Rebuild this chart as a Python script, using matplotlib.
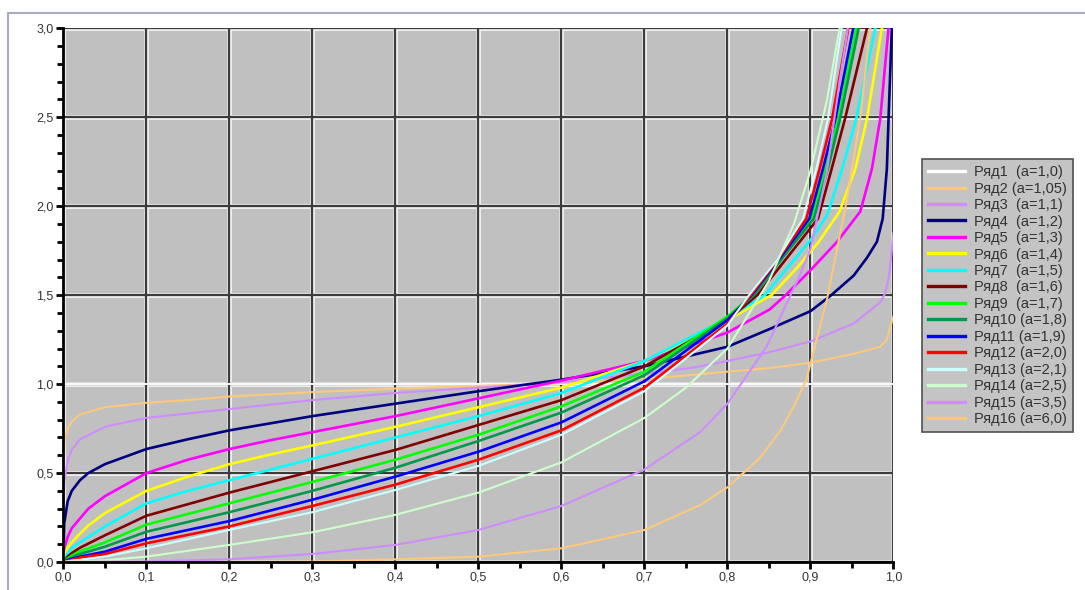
import matplotlib
matplotlib.use('Agg')
import matplotlib.pyplot as plt
from matplotlib.ticker import MultipleLocator, FuncFormatter
from matplotlib.lines import Line2D

plt.rcParams['font.family'] = ['Liberation Sans', 'DejaVu Sans']

# Подписи рядов
labels = ['Ряд1  (a=1,0)', 'Ряд2 (a=1,05)', 'Ряд3  (a=1,1)', 'Ряд4  (a=1,2)',
          'Ряд5  (a=1,3)', 'Ряд6  (a=1,4)', 'Ряд7  (a=1,5)', 'Ряд8  (a=1,6)',
          'Ряд9  (a=1,7)', 'Ряд10 (a=1,8)', 'Ряд11 (a=1,9)', 'Ряд12 (a=2,0)',
          'Ряд13 (a=2,1)', 'Ряд14 (a=2,5)', 'Ряд15 (a=3,5)', 'Ряд16 (a=6,0)']

# Значения
x1 = [0.0, 1.0]
y1 = [1.0, 1.0]

x2 = [0, 0.001, 0.005, 0.01, 0.02, 0.05, 0.1, 0.15, 0.2, 0.3, 0.4, 0.5, 0.6, 0.73, 0.8,
      0.851, 0.9, 0.952, 0.984, 0.992, 0.996, 1.0]
y2 = [0.55, 0.68, 0.75, 0.79, 0.83, 0.87, 0.895, 0.91, 0.93, 0.955, 0.975, 0.99, 1.005,
      1.04, 1.07, 1.09, 1.12, 1.17, 1.21, 1.25, 1.32, 1.38]

x3 = [0, 0.001, 0.005, 0.01, 0.02, 0.05, 0.1, 0.2, 0.3, 0.4, 0.5, 0.6, 0.7, 0.755,
      0.8, 0.851, 0.9, 0.952, 0.984, 0.99, 0.995, 1.0]
y3 = [0.3, 0.45, 0.57, 0.63, 0.69, 0.76, 0.81, 0.86, 0.91, 0.95, 0.98, 1.01, 1.06, 1.09,
      1.13, 1.18, 1.24, 1.34, 1.46, 1.51, 1.62, 1.85]

x4 = [0, 0.001, 0.005, 0.01, 0.02, 0.03, 0.05, 0.1, 0.15, 0.2, 0.25, 0.3, 0.4, 0.5,
      0.6, 0.7, 0.8, 0.851, 0.9, 0.925, 0.952, 0.968, 0.98, 0.987, 0.992, 0.994, 0.998]
y4 = [0, 0.22, 0.34, 0.40, 0.46, 0.50, 0.55, 0.635, 0.69, 0.74, 0.78, 0.82, 0.89, 0.96,
      1.025, 1.10, 1.21, 1.31, 1.41, 1.5, 1.61, 1.71, 1.80, 1.93, 2.21, 2.49, 3.0]

x5 = [0, 0.001, 0.005, 0.01, 0.02, 0.03, 0.05, 0.1, 0.15, 0.2, 0.25, 0.3, 0.4, 0.5,
      0.6, 0.7, 0.8, 0.851, 0.87, 0.9, 0.932, 0.96, 0.974, 0.984, 0.994]
y5 = [0, 0.08, 0.14, 0.19, 0.245, 0.30, 0.37, 0.50, 0.575, 0.635, 0.685, 0.73, 0.82,
      0.92, 1.02, 1.13, 1.29, 1.42, 1.5, 1.64, 1.80, 1.97, 2.21, 2.49, 3.0]

x6 = [0, 0.005, 0.01, 0.02, 0.03, 0.05, 0.1, 0.15, 0.2, 0.25, 0.3, 0.4, 0.5, 0.6, 0.7,
      0.8, 0.853, 0.885, 0.91, 0.935, 0.954, 0.968, 0.986]
y6 = [0, 0.08, 0.11, 0.16, 0.205, 0.275, 0.40, 0.48, 0.55, 0.605, 0.655, 0.76, 0.87,
      0.98, 1.13, 1.36, 1.5, 1.66, 1.80, 1.97, 2.21, 2.49, 3.0]

x7 = [0, 0.005, 0.01, 0.02, 0.03, 0.05, 0.1, 0.15, 0.2, 0.25, 0.3, 0.4, 0.5, 0.6, 0.7,
      0.8, 0.845, 0.875, 0.9, 0.92, 0.9375, 0.955, 0.978]
y7 = [0, 0.05, 0.08, 0.11, 0.14, 0.20, 0.33, 0.40, 0.46, 0.52, 0.58, 0.70, 0.82, 0.95,
      1.13, 1.37, 1.5, 1.67, 1.81, 1.95, 2.2, 2.49, 3.0]

x8 = [0, 0.005, 0.01, 0.02, 0.05, 0.1, 0.15, 0.2, 0.25, 0.3, 0.4, 0.5, 0.6, 0.7, 0.8,
      0.836, 0.87, 0.909, 0.9255, 0.9415, 0.968]
y8 = [0, 0.03, 0.05, 0.08, 0.15, 0.26, 0.325, 0.39, 0.45, 0.51, 0.63, 0.77, 0.91, 1.10,
      1.36, 1.5, 1.70, 1.93, 2.21, 2.49, 3.0]

x9 = [0, 0.005, 0.01, 0.02, 0.05, 0.1, 0.2, 0.3, 0.4, 0.5, 0.6, 0.7, 0.8,
      0.83, 0.865, 0.901, 0.918, 0.9335, 0.955]
y9 = [0, 0.02, 0.035, 0.06, 0.11, 0.21, 0.33, 0.45, 0.575, 0.715, 0.875, 1.07, 1.38,
      1.5, 1.71, 1.93, 2.21, 2.49, 3.0]

x10 = [0, 0.005, 0.01, 0.02, 0.05, 0.1, 0.2, 0.3, 0.4, 0.5, 0.6, 0.7, 0.8,
       0.832, 0.868, 0.904, 0.921, 0.9355, 0.958]
y10 = [0, 0.015, 0.025, 0.045, 0.086, 0.17, 0.28, 0.40, 0.53, 0.68, 0.84, 1.05, 1.37,
       1.5, 1.72, 1.93, 2.21, 2.49, 3.0]

x11 = [0, 0.005, 0.01, 0.02, 0.05, 0.1, 0.2, 0.3, 0.4, 0.5, 0.6, 0.7, 0.8,
       0.829, 0.865, 0.8986, 0.915, 0.93, 0.9515]
y11 = [0, 0.01, 0.018, 0.03, 0.058, 0.13, 0.23, 0.35, 0.48, 0.62, 0.785, 1.016, 1.36,
       1.5, 1.72, 1.93, 2.21, 2.49, 3.0]

x12 = [0, 0.005, 0.01, 0.02, 0.05, 0.1, 0.2, 0.3, 0.4, 0.5, 0.6, 0.7, 0.8,
       0.828, 0.862, 0.895, 0.911, 0.926, 0.9455]
y12 = [0, 0.007, 0.012, 0.025, 0.045, 0.105, 0.20, 0.315, 0.435, 0.575, 0.74, 0.98, 1.34,
       1.5, 1.71, 1.93, 2.21, 2.49, 3.0]

x13 = [0, 0.005, 0.01, 0.02, 0.05, 0.1, 0.2, 0.3, 0.4, 0.5, 0.6, 0.7, 0.8,
       0.826, 0.86, 0.891, 0.907, 0.921, 0.9375]
y13 = [0, 0.004, 0.008, 0.012, 0.03, 0.077, 0.18, 0.28, 0.405, 0.54, 0.715, 0.96, 1.33,
       1.5, 1.70, 1.93, 2.21, 2.49, 3.0]

x14 = [0, 0.01, 0.02, 0.05, 0.1, 0.2, 0.3, 0.4, 0.5, 0.6, 0.7, 0.75, 0.8,
       0.85, 0.88, 0.9, 0.92, 0.935]
y14 = [0, 0.001, 0.003, 0.01, 0.03, 0.096, 0.167, 0.265, 0.39, 0.56, 0.81, 0.98, 1.2,
       1.58, 1.9, 2.2, 2.6, 3.0]

x15 = [0, 0.1, 0.2, 0.3, 0.4, 0.5, 0.6, 0.7, 0.767, 0.8, 0.847, 0.887, 0.9,
       0.92, 0.935, 0.945]
y15 = [0, 0.003, 0.015, 0.045, 0.096, 0.18, 0.315, 0.52, 0.73, 0.89, 1.21, 1.61, 1.76,
       2.2, 2.7, 3.0]

x16 = [0, 0.2, 0.3, 0.4, 0.5, 0.6, 0.7, 0.767, 0.8, 0.839, 0.864, 0.88, 0.895,
       0.92, 0.932, 0.944, 0.96, 0.972]
y16 = [0, 0.0, 0.002, 0.015, 0.03, 0.077, 0.18, 0.32, 0.42, 0.584, 0.74, 0.875, 1.025,
       1.48, 1.76, 2.04, 2.5, 3.0]

series_x = [x1, x2, x3, x4, x5, x6, x7, x8, x9, x10, x11, x12, x13, x14, x15, x16]
series_y = [y1, y2, y3, y4, y5, y6, y7, y8, y9, y10, y11, y12, y13, y14, y15, y16]

colors = ['#ffffff', '#fcc97b', '#cf8cff', '#000080', '#ff00ff', '#ffff00', '#00ffff',
          '#800000', '#00ff00', '#00994c', '#0000ff', '#ff0000', '#ccffff', '#ccffcc',
          '#cf8cff', '#fcc97b']
widths = [1.4, 1.5, 1.5, 1.9, 1.9, 1.9, 1.9, 1.9, 1.9, 1.9, 1.9, 1.9, 1.5, 1.5, 1.5, 1.5]

fig = plt.figure(figsize=(10.85, 5.9), dpi=100)
ax = fig.add_axes([0.0585, 0.0475, 0.765, 0.9045])
ax.set_facecolor('#c0c0c0')

ax.set_xlim(0, 1)
ax.set_ylim(0, 3)
ax.xaxis.set_major_locator(MultipleLocator(0.1))
ax.xaxis.set_minor_locator(MultipleLocator(0.05))
ax.yaxis.set_major_locator(MultipleLocator(0.5))
ax.yaxis.set_minor_locator(MultipleLocator(0.1))
fmt = FuncFormatter(lambda v, p: ('%.1f' % v).replace('.', ','))
ax.xaxis.set_major_formatter(fmt)
ax.yaxis.set_major_formatter(fmt)

# сетка: тёмная линия со светлой каймой
for v in ax.xaxis.get_majorticklocs()[1:-1]:
    ax.axvline(v, color='#eeeeee', lw=3.6, zorder=1)
    ax.axvline(v, color='#3c3c3c', lw=1.6, zorder=1.1)
for v in ax.yaxis.get_majorticklocs()[1:-1]:
    ax.axhline(v, color='#eeeeee', lw=3.6, zorder=1)
    ax.axhline(v, color='#3c3c3c', lw=1.6, zorder=1.1)

handles = []
for i in range(len(series_x)):
    ax.plot(series_x[i], series_y[i], color=colors[i], lw=widths[i],
            zorder=2 + i * 0.01, solid_joinstyle='round')
    handles.append(Line2D([], [], color=colors[i], lw=2.4))

for s in ['top', 'right']:
    ax.spines[s].set_visible(False)
ax.spines['left'].set_linewidth(2)
ax.spines['bottom'].set_linewidth(2)
ax.spines['left'].set_zorder(5)
ax.spines['bottom'].set_zorder(5)
ax.tick_params(which='major', direction='out', length=5, width=2, labelsize=9,
               labelcolor='#333333', pad=2)
ax.tick_params(which='minor', direction='out', length=4, width=2)

leg = fig.legend(handles, labels, loc='upper left', bbox_to_anchor=(0.8495, 0.73),
                 fontsize=10.5, frameon=True, fancybox=False, framealpha=1,
                 facecolor='#c4c4c4', edgecolor='#505050', handlelength=2.6,
                 labelspacing=0.17, borderpad=0.4, handletextpad=0.6,
                 borderaxespad=0)
leg.get_frame().set_linewidth(1.2)
for t in leg.get_texts():
    t.set_color('#333333')

# рамка области диаграммы
fig.add_artist(Line2D([0.0074, 1.0], [0.978, 0.978], color='#a8acc0', lw=1.5))
fig.add_artist(Line2D([0.0074, 0.0074], [0.0, 0.978], color='#a8acc0', lw=1.5))

fig.savefig('out.png', dpi=100)
